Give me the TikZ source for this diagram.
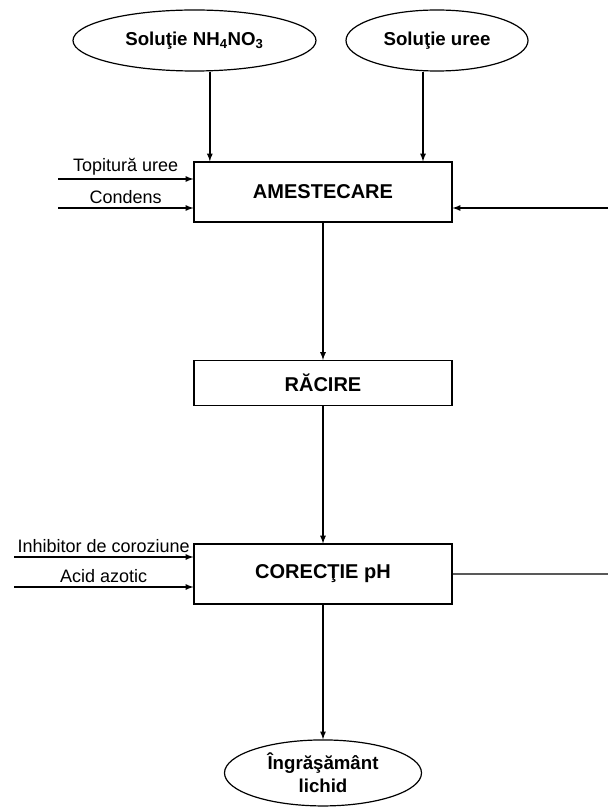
\documentclass[tikz,border=0pt]{standalone}
\usepackage{fontspec}
\setmainfont{Liberation Sans}
\usetikzlibrary{shapes,arrows,positioning}
\tikzset{process/.style={rectangle, draw, fill=white, text centered, font=\fontsize{15}{18}\selectfont\bfseries,
 minimum width=193.5pt, line width=0.9pt}}
\tikzset{flux/.style={ellipse, draw, fill=white, text centered, font=\fontsize{14}{17}\selectfont\bfseries,
 minimum height=45.75pt, inner sep=0pt, line width=0.9pt}}
\tikzset{inlbl/.style={font=\fontsize{13.5}{16}\selectfont, inner sep=2.5pt}}
\tikzset{line/.style={draw, line width=1pt, -latex}}

\begin{document}
\begin{tikzpicture}[x=0.75pt, y=-0.75pt, node distance=103pt]
        \useasboundingbox (0,0) rectangle (608,809);
        \node[flux, minimum width=182.25pt] (nh4) at (194.5,40.5) {Soluţie NH\textsubscript{4}NO\textsubscript{3}};
        \node[flux, minimum width=136.5pt] (uree) at (437,40.5) {Soluţie uree};
        \node[process, minimum height=45pt] (amst) at (323,192) {AMESTECARE};
        \node[process, minimum height=33.75pt, below=of amst] (racr) {RĂCIRE};
        \node[process, minimum height=45pt, below=of racr] (corc) {CORECŢIE pH};
        \node[flux, minimum width=147.75pt, minimum height=49.5pt, align=center, below=101pt of corc] (ingr) {Îngrăşământ\\lichid};

        % intrari si iesiri libere
        \coordinate[xshift=11.5pt] (nh4o) at (nh4.south);
        \coordinate[xshift=-10.5pt] (ureo) at (uree.south);
        \coordinate (topi) at (58,179);
        \coordinate (cond) at (58,208);
        \coordinate (recl) at (608,208);
        \coordinate (inhb) at (14,557);
        \coordinate (acid) at (14,587);
        \coordinate (exces) at (corc.east -| recl);

        \path[line] (nh4o) --          (nh4o |- amst.north);
        \path[line] (ureo) --          (ureo |- amst.north);
        \path[line] (topi) -- node[inlbl, above] {Topitură uree} (topi -| amst.west);
        \path[line] (cond) -- node[inlbl, above] {Condens} (cond -| amst.west);
        \path[line] (recl) --          (recl -| amst.east);
        \path[line] (amst) --          (racr);
        \path[line] (racr) --          (corc);
        \path[line] (inhb) -- node[inlbl, above] {Inhibitor de coroziune} (inhb -| corc.west);
        \path[line] (acid) -- node[inlbl, above] {Acid azotic} (acid -| corc.west);
        \draw[line width=1pt, black!65] (corc.east) -- (exces);
        \path[line] (corc) --          (ingr);
      \end{tikzpicture}
\end{document}
